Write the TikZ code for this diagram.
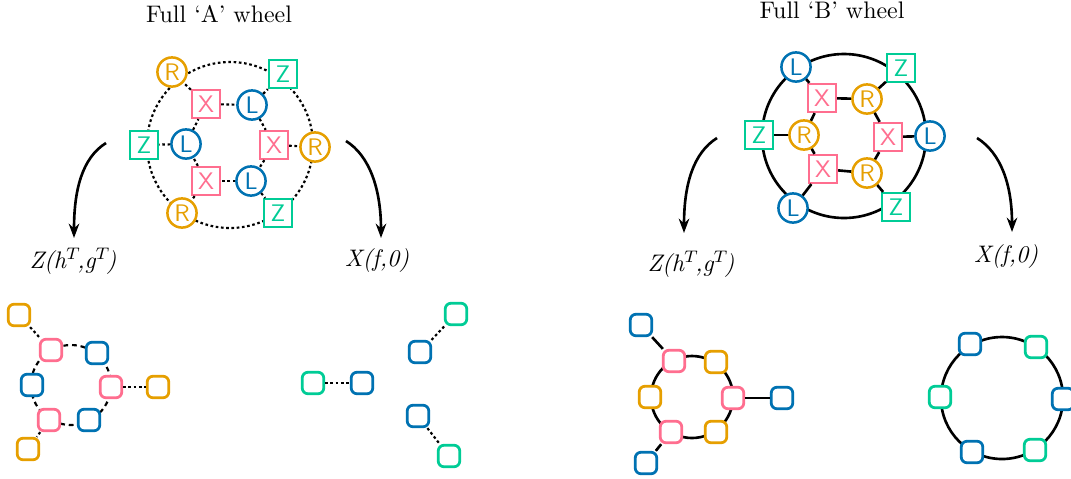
\documentclass[tikz,border=0pt]{standalone}
\usetikzlibrary{arrows.meta}
\definecolor{cL}{HTML}{0072B2}
\definecolor{cR}{HTML}{E69F00}
\definecolor{cZ}{HTML}{00CC96}
\definecolor{cX}{HTML}{FF6E8F}
\tikzset{
  lab/.style={font=\fontsize{10}{10}\selectfont\sffamily, inner sep=0pt, fill=white, line width=1.05pt},
  Lc/.style={lab, circle, draw=cL, text=cL, minimum size=12.2pt},
  Rc/.style={lab, circle, draw=cR, text=cR, minimum size=12.2pt},
  Zs/.style={lab, rectangle, draw=cZ, text=cZ, minimum size=11.6pt},
  Xs/.style={lab, rectangle, draw=cX, text=cX, minimum size=11.6pt},
  sq/.style={rectangle, rounded corners=2.4pt, minimum size=9pt, inner sep=0pt, fill=white, line width=1.15pt},
  sL/.style={sq, draw=cL}, sR/.style={sq, draw=cR}, sZ/.style={sq, draw=cZ}, sX/.style={sq, draw=cX},
  dotl/.style={line width=0.9pt, dash pattern=on 1.1pt off 1.1pt},
  dashl/.style={line width=0.9pt, dash pattern=on 2pt off 1.6pt},
  solidl/.style={line width=1.1pt},
  arr/.style={line width=1.1pt, -{Stealth[length=6pt,width=4.4pt]}},
  ttl/.style={font=\normalsize, inner sep=0pt},
}
\begin{document}
\begin{tikzpicture}[x=0.418pt,y=-0.418pt]
\useasboundingbox (0,0) rectangle (1071,478);
% titles
\node[ttl] (tA) at (219,14) {Full `A' wheel};
\node[ttl] (tB) at (832,10) {Full `B' wheel};

% ===== wheel A =====
\draw[dotl] (230,145) circle (83);
\node[Rc] (RA1) at (172,72) {R};
\node[Zs] (ZA1) at (283,74) {Z};
\node[Zs] (ZA2) at (144,145) {Z};
\node[Rc] (RA2) at (315,147) {R};
\node[Rc] (RA3) at (182,213) {R};
\node[Zs] (ZA3) at (278,213) {Z};
\node[Xs] (XA1) at (206,104) {X};
\node[Lc] (LA1) at (252,105) {L};
\node[Lc] (LA2) at (186,144) {L};
\node[Xs] (XA2) at (274,145) {X};
\node[Xs] (XA3) at (206,181) {X};
\node[Lc] (LA3) at (251,181) {L};
\draw[dotl] (XA1) -- (LA1);
\draw[dotl] (LA1) -- (XA2);
\draw[dotl] (XA2) -- (LA3);
\draw[dotl] (LA3) -- (XA3);
\draw[dotl] (XA3) -- (LA2);
\draw[dotl] (LA2) -- (XA1);
\draw[dotl] (XA1) -- (RA1);
\draw[dotl] (LA1) -- (ZA1);
\draw[dotl] (LA2) -- (ZA2);
\draw[dotl] (XA2) -- (RA2);
\draw[dotl] (XA3) -- (RA3);
\draw[dotl] (LA3) -- (ZA3);

% ===== wheel B =====
\draw[solidl] (844,136) circle (82);
\node[Lc] (LB1) at (796,67) {L};
\node[Zs] (ZB1) at (901,68) {Z};
\node[Zs] (ZB2) at (759,135) {Z};
\node[Lc] (LB2) at (930,136) {L};
\node[Lc] (LB3) at (793,208) {L};
\node[Zs] (ZB3) at (896,207) {Z};
\node[Xs] (XB1) at (822,98) {X};
\node[Rc] (RB1) at (867,99) {R};
\node[Rc] (RB2) at (804,135) {R};
\node[Xs] (XB2) at (888,137) {X};
\node[Xs] (XB3) at (823,169) {X};
\node[Rc] (RB3) at (867,173) {R};
\draw[solidl] (XB1) -- (RB1);
\draw[solidl] (RB1) -- (XB2);
\draw[solidl] (XB2) -- (RB3);
\draw[solidl] (RB3) -- (XB3);
\draw[solidl] (XB3) -- (RB2);
\draw[solidl] (RB2) -- (XB1);
\draw[solidl] (XB1) -- (LB1);
\draw[solidl] (RB1) -- (ZB1);
\draw[solidl] (RB2) -- (ZB2);
\draw[solidl] (XB2) -- (LB2);
\draw[solidl] (XB3) -- (LB3);
\draw[solidl] (RB3) -- (ZB3);

% ===== arrows =====
\coordinate (a1s) at (106,143); \coordinate (a1e) at (74,238);
\coordinate (a2s) at (346,141); \coordinate (a2e) at (381,238);
\coordinate (a3s) at (717,138); \coordinate (a3e) at (684,233);
\coordinate (a4s) at (977,138); \coordinate (a4e) at (1012,232);
\draw[arr] (a1s) .. controls (82,158) and (74,190) .. (a1e);
\draw[arr] (a2s) .. controls (370,156) and (381,190) .. (a2e);
\draw[arr] (a3s) .. controls (693,153) and (684,185) .. (a3e);
\draw[arr] (a4s) .. controls (1001,153) and (1012,185) .. (a4e);

% labels
\node[ttl] (lZA) at (73,261) {\textit{Z(h$^T$\!,g$^T$\!)}};
\node[ttl] (lXA) at (377,261) {\textit{X(f,0)}};
\node[ttl] (lZB) at (691,264) {\textit{Z(h$^T$\!,g$^T$\!)}};
\node[ttl] (lXB) at (1006,257) {\textit{X(f,0)}};

% ===== bottom A: Z =====
\draw[dashl] (71,385) circle (40);
\node[sR] (p1) at (19,315) {};
\node[sX] (p2) at (51,350) {};
\node[sL] (p3) at (97,353) {};
\node[sL] (p4) at (32,385) {};
\node[sX] (p5) at (111,387) {};
\node[sR] (p6) at (158,387) {};
\node[sX] (p7) at (49,420) {};
\node[sL] (p8) at (89,420) {};
\node[sR] (p9) at (28,449) {};
\draw[dotl] (p1) -- (p2);
\draw[dotl] (p5) -- (p6);
\draw[dotl] (p7) -- (p9);

% ===== bottom A: X =====
\node[sZ] (q1) at (313,383) {};
\node[sL] (q2) at (362,383) {};
\node[sL] (q3) at (420,352) {};
\node[sZ] (q4) at (456,314) {};
\node[sL] (q5) at (418,416) {};
\node[sZ] (q6) at (449,456) {};
\draw[dotl] (q1) -- (q2);
\draw[dotl] (q3) -- (q4);
\draw[dotl] (q5) -- (q6);

% ===== bottom B: Z =====
\draw[solidl] (692,397) circle (41);
\node[sL] (r1) at (641,325) {};
\node[sX] (r2) at (674,361) {};
\node[sR] (r3) at (716,362) {};
\node[sR] (r4) at (650,397) {};
\node[sX] (r5) at (733,398) {};
\node[sL] (r6) at (782,398) {};
\node[sX] (r7) at (671,432) {};
\node[sR] (r8) at (716,432) {};
\node[sL] (r9) at (646,463) {};
\draw[solidl] (r1) -- (r2);
\draw[solidl] (r5) -- (r6);
\draw[solidl] (r7) -- (r9);

% ===== bottom B: X =====
\draw[solidl] (1002,398) circle (61);
\node[sL] (s1) at (970,344) {};
\node[sZ] (s2) at (1036,347) {};
\node[sZ] (s3) at (940,397) {};
\node[sL] (s4) at (1063,399) {};
\node[sL] (s5) at (972,452) {};
\node[sZ] (s6) at (1035,450) {};
\end{tikzpicture}
\end{document}
